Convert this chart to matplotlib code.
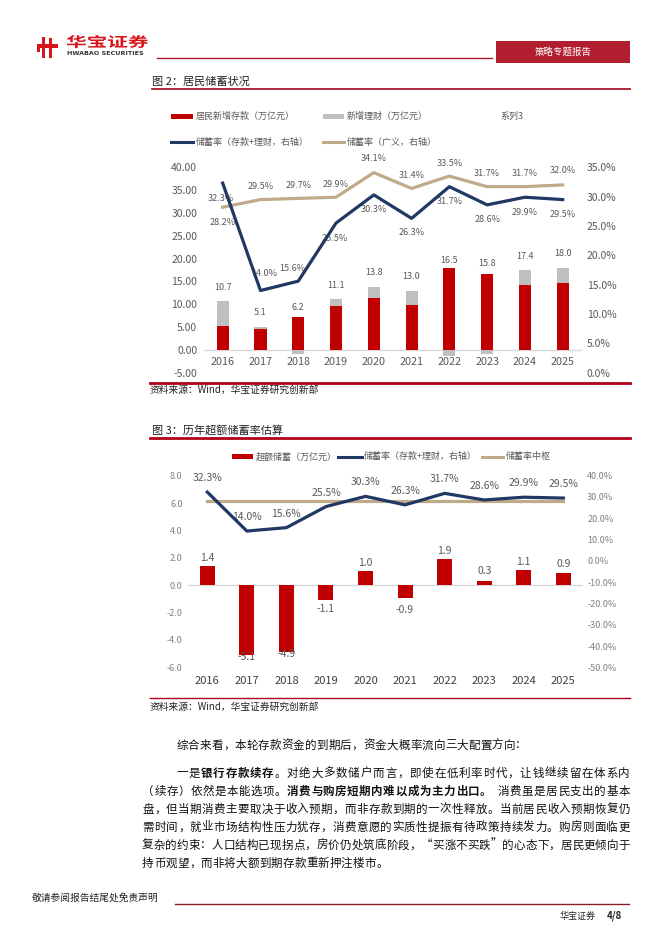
import numpy as np
import matplotlib
matplotlib.use('Agg')
import matplotlib.pyplot as plt
from matplotlib.lines import Line2D
from matplotlib.patches import Rectangle, PathPatch
from matplotlib.textpath import TextPath
from matplotlib.font_manager import FontProperties
from matplotlib.transforms import Affine2D

plt.rcParams['font.family'] = ['Noto Sans CJK SC', 'DejaVu Sans']

# ---- data ----
years = ['2016', '2017', '2018', '2019', '2020', '2021', '2022', '2023', '2024', '2025']
deposit = [5.2, 4.5, 7.1, 9.7, 11.3, 9.9, 17.9, 16.6, 14.2, 14.6]   # 居民新增存款
wealth = [5.5, 0.6, -0.9, 1.4, 2.5, 3.1, -1.4, -0.8, 3.2, 3.4]     # 新增理财
rate_dw = [32.3, 14.0, 15.6, 25.5, 30.3, 26.3, 31.7, 28.6, 29.9, 29.5]
rate_broad = [28.2, 29.5, 29.7, 29.9, 34.1, 31.4, 33.5, 31.7, 31.7, 32.0]
excess = [1.4, -5.1, -4.9, -1.1, 1.0, -0.9, 1.9, 0.3, 1.1, 0.9]
rate_center = [28.0] * 10

# label offsets in pixels (positive = up)
dw_dy1 = [-15, 17, 13, -15, -15, -14, -15, -15, -15, -15]
dw_dx1 = [-2, 4, -6, -1, 0, 0, 0, 0, 0, 0]
br_dy1 = [-15, 13, 13, 13, 14, 13, 13, 13, 13, 14]
ex_dy = [8, -2, -2, -9, 8, -12, 8, 10, 8, 9]

W, H = 662, 936
RED = '#C00000'
GRAY = '#BFBFBF'
NAVY = '#203864'
TAN = '#BFAA8A'
LINE = '#A8192E'
TXT = '#595959'

fig = plt.figure(figsize=(W / 100, H / 100), dpi=100)


def box(l, t, r, b):
    return [l / W, 1 - b / H, (r - l) / W, (b - t) / H]


def T(x, y, s, **kw):
    kw.setdefault('va', 'center')
    fig.text(x / W, 1 - y / H, s, **kw)


def hline(x0, x1, y, lw=1.0, color=LINE):
    fig.add_artist(Line2D([x0 / W, x1 / W], [1 - y / H, 1 - y / H],
                          transform=fig.transFigure, color=color, lw=lw))


def rect(x0, y0, x1, y1, color):
    fig.add_artist(Rectangle((x0 / W, 1 - y1 / H), (x1 - x0) / W, (y1 - y0) / H,
                             transform=fig.transFigure, color=color, lw=0))


# ---- header ----
rect(36.7, 44, 58.3, 47.5, '#D7141C')
rect(41.5, 36.7, 44.5, 58.3, '#D7141C')
rect(49, 38.5, 52, 58.3, '#D7141C')
rect(36.7, 47.5, 39.5, 52, '#D7141C')
tp = TextPath((0, 0), '华宝证券', size=10, prop=FontProperties(family='Noto Sans CJK SC', weight='bold'))
bb = tp.get_extents()
aff = Affine2D().translate(-bb.x0, -bb.y0).scale(81.5 / bb.width, 13 / bb.height).translate(66.7, H - 48)
fig.add_artist(PathPatch(tp, transform=aff, color='#D7141C', lw=0))
T(66.7, 53.5, 'HWABAO SECURITIES', fontsize=4.6, fontweight='bold', color='#333333',
  family='DejaVu Sans')
hline(156.7, 491.7, 58.3, lw=1.0)
rect(496, 41, 630, 62.7, '#B01E30')
T(563, 52, '策略专题报告', fontsize=6.8, color='white', ha='center')

# ---- figure 2 ----
T(151.7, 81.7, '图 2：居民储蓄状况', fontsize=8, color='#222222')
hline(151.7, 630, 89.3, lw=1.3)

# legend
rect(170.7, 114.2, 192.7, 119.2, RED)
T(195.7, 116.7, '居民新增存款（万亿元）', fontsize=6.5, color=TXT)
rect(323, 114.2, 344, 119.2, GRAY)
T(347, 116.7, '新增理财（万亿元）', fontsize=6.5, color=TXT)
T(500, 116.7, '系列3', fontsize=6.5, color=TXT)
fig.add_artist(Line2D([170.7 / W, 193 / W], [1 - 142.3 / H] * 2, transform=fig.transFigure, color=NAVY, lw=2.2))
T(196, 142.3, '储蓄率（存款+理财，右轴）', fontsize=6.5, color=TXT)
fig.add_artist(Line2D([322.7 / W, 344 / W], [1 - 142.3 / H] * 2, transform=fig.transFigure, color=TAN, lw=2.2))
T(347, 142.3, '储蓄率（广义，右轴）', fontsize=6.5, color=TXT)

x = np.arange(len(years))
step1 = (562.7 - 222.7) / 9
ax1 = fig.add_axes(box(222.7 - step1 / 2, 167.3, 562.7 + step1 / 2, 372.7))
ax1.set_xlim(-0.5, 9.5)
ax1.set_ylim(-5, 40)
dep = np.array(deposit)
wea = np.array(wealth)
tot = dep + wea
ax1.axhline(0, color='#D9D9D9', lw=1, zorder=1)
ax1.bar(x, dep, width=0.32, color=RED, zorder=2)
ax1.bar(x, wea, width=0.32, bottom=np.where(wea >= 0, dep, 0), color=GRAY, zorder=2)
for i in range(len(x)):
    ax1.annotate(f'{tot[i]:.1f}', (x[i], tot[i]), xytext=(0, 14), textcoords='offset pixels',
                 ha='center', va='center', fontsize=6.5, color=TXT)
    ax1.text(x[i], -2.6, years[i], ha='center', va='center', fontsize=7.8, color=TXT)
ax1.set_xticks([])
ax1.set_yticks(np.arange(-5, 41, 5))
ax1.set_yticklabels([f'{v:.2f}' for v in np.arange(-5, 41, 5)])
ax1.tick_params(axis='y', length=0, pad=4.7, labelsize=7.5, labelcolor=TXT)
ax1r = ax1.twinx()
ax1r.set_ylim(0, 35)
ax1r.plot(x, rate_broad, color=TAN, lw=2.3, zorder=3)
ax1r.plot(x, rate_dw, color=NAVY, lw=2.3, zorder=4)
for i in range(len(x)):
    ax1r.annotate(f'{rate_dw[i]:.1f}%', (x[i], rate_dw[i]), xytext=(dw_dx1[i], dw_dy1[i]),
                  textcoords='offset pixels', ha='center', va='center', fontsize=6.5, color=TXT)
    ax1r.annotate(f'{rate_broad[i]:.1f}%', (x[i], rate_broad[i]), xytext=(0, br_dy1[i]),
                  textcoords='offset pixels', ha='center', va='center', fontsize=6.5, color=TXT)
ax1r.set_yticks(np.arange(0, 36, 5))
ax1r.set_yticklabels([f'{v:.1f}%' for v in np.arange(0, 36, 5)])
ax1r.tick_params(axis='y', length=0, pad=3.6, labelsize=7.5, labelcolor=TXT)
for a in (ax1, ax1r):
    a.patch.set_visible(False)
    for s in a.spines.values():
        s.set_visible(False)

hline(150, 630, 382.7, lw=2.0, color='#B0001A')
T(150, 389.5, '资料来源：Wind，华宝证券研究创新部', fontsize=7, color='#222222')

# ---- figure 3 ----
T(151.7, 430, '图 3：历年超额储蓄率估算', fontsize=8, color='#222222')
hline(150, 630, 438.3, lw=2.0, color='#B0001A')

rect(231.7, 454.2, 252.7, 459.2, RED)
T(256, 456.7, '超额储蓄（万亿元）', fontsize=6.5, color=TXT)
fig.add_artist(Line2D([338 / W, 361.7 / W], [1 - 456.7 / H] * 2, transform=fig.transFigure, color=NAVY, lw=2.2))
T(364, 456.7, '储蓄率（存款+理财，右轴）', fontsize=6.5, color=TXT)
fig.add_artist(Line2D([481.7 / W, 502.7 / W], [1 - 456.7 / H] * 2, transform=fig.transFigure, color=TAN, lw=2.2))
T(506, 456.7, '储蓄率中枢', fontsize=6.5, color=TXT)

step2 = (563.3 - 207.3) / 9
ax2 = fig.add_axes(box(207.3 - step2 / 2, 475.7, 563.3 + step2 / 2, 667.3))
ax2.set_xlim(-0.5, 9.5)
ax2.set_ylim(-6, 8)
ax2.axhline(0, color='#D9D9D9', lw=1, zorder=1)
ax2.bar(x, excess, width=0.38, color=RED, zorder=2)
for i in range(len(x)):
    ax2.annotate(f'{excess[i]:.1f}', (x[i], excess[i]), xytext=(0, ex_dy[i]), textcoords='offset pixels',
                 ha='center', va='center', fontsize=7.5, color=TXT, zorder=3)
ax2.set_xticks(x)
ax2.set_xticklabels(years)
ax2.tick_params(axis='x', length=0, pad=6.5, labelsize=8, labelcolor='#404040')
ax2.set_yticks(np.arange(-6, 9, 2))
ax2.set_yticklabels([f'{v:.1f}' for v in np.arange(-6, 9, 2)])
ax2.tick_params(axis='y', length=0, pad=3.5, labelsize=6.5, labelcolor='#7F7F7F')
ax2r = ax2.twinx()
ax2r.set_ylim(-50, 40)
ax2r.plot(x, rate_center, color=TAN, lw=2.3, zorder=3)
ax2r.plot(x, rate_dw, color=NAVY, lw=2.3, zorder=4)
for i in range(len(x)):
    ax2r.annotate(f'{rate_dw[i]:.1f}%', (x[i], rate_dw[i]), xytext=(0, 14), textcoords='offset pixels',
                  ha='center', va='center', fontsize=7.5, color=TXT)
ax2r.set_yticks(np.arange(-50, 41, 10))
ax2r.set_yticklabels([f'{v:.1f}%' for v in np.arange(-50, 41, 10)])
ax2r.tick_params(axis='y', length=0, pad=2.9, labelsize=6.5, labelcolor='#7F7F7F')
for a in (ax2, ax2r):
    a.patch.set_visible(False)
    for s in a.spines.values():
        s.set_visible(False)

hline(150, 630, 698.3, lw=1.0, color='#B0001A')
T(150, 706.5, '资料来源：Wind，华宝证券研究创新部', fontsize=7, color='#222222')

# ---- body text ----
para1 = '综合来看，本轮存款资金的到期后，资金大概率流向三大配置方向：'
body = [
    '一是**银行存款续存**。对绝大多数储户而言，即使在低利率时代，让钱继续留在体系内',
    '（续存）依然是本能选项。**消费与购房短期内难以成为主力出口。** 消费虽是居民支出的基本',
    '盘，但当期消费主要取决于收入预期，而非存款到期的一次性释放。当前居民收入预期恢复仍',
    '需时间，就业市场结构性压力犹存，消费意愿的实质性提振有待政策持续发力。购房则面临更',
    '复杂的约束：人口结构已现拐点，房价仍处筑底阶段，“买涨不买跌”的心态下，居民更倾向于',
    '持币观望，而非将大额到期存款重新押注楼市。',
]


def put_line(s, y, x0, x1=None, nat=11.7):
    chars = []
    parts = s.split('**')
    for k, p in enumerate(parts):
        for c in p:
            chars.append((c, k % 2 == 1))
    wts = [0.5 if c == ' ' else 1.0 for c, _ in chars]
    stp = nat if x1 is None else (x1 - x0) / sum(wts)
    pos = x0
    for (c, b), w in zip(chars, wts):
        if c != ' ':
            T(pos + stp * w / 2, y, c, ha='center', fontsize=8.3, color='#111111',
              fontweight='bold' if b else 'normal')
        pos += stp * w


put_line(para1, 745, 176)
put_line(body[0], 773, 176, 630)
for j in range(1, 5):
    put_line(body[j], 773 + 18 * j, 142, 630)
put_line(body[5], 773 + 18 * 5, 142)

# ---- footer ----
T(32, 898, '敬请参阅报告结尾处免责声明', fontsize=7, color='#222222')
hline(175, 629, 904, lw=1.0, color='#8B1A2B')
T(560, 916, '华宝证券', fontsize=6.5, color='#222222')
T(607, 916, '4/8', fontsize=7, fontweight='bold', color='#222222')

fig.savefig('out.png', dpi=100)
